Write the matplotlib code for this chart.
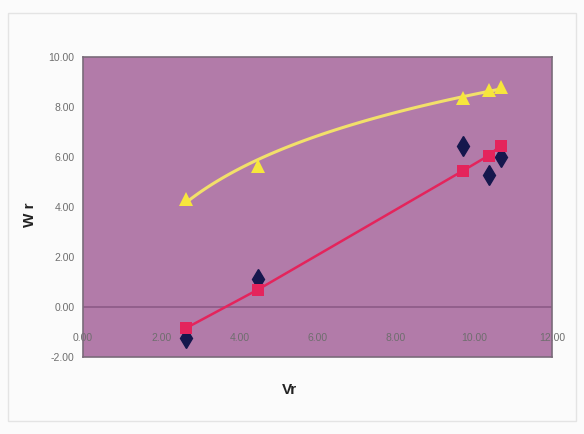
"""Scatter of Wr against Vr with trend lines, Excel-style layout."""

import matplotlib

matplotlib.use("Agg")
import matplotlib.pyplot as plt
import numpy as np
from matplotlib.patches import Rectangle

# values
vr = [2.63, 4.48, 9.72, 10.38, 10.69]
wr_observed = [-1.24, 1.14, 6.46, 5.30, 6.00]
wr_linear = [-0.85, 0.70, 5.45, 6.06, 6.46]
wr_upper = [4.32, 5.66, 8.36, 8.69, 8.80]

x_ticks = [0, 2, 4, 6, 8, 10, 12]
y_ticks = [-2, 0, 2, 4, 6, 8, 10]

plt.rcParams["font.family"] = ["Liberation Sans", "DejaVu Sans"]

fig = plt.figure(figsize=(5.84, 4.34), dpi=100)
fig.patch.set_facecolor("#fbfbfb")
fig.patches.append(
    Rectangle((0.014, 0.03), 0.972, 0.94, transform=fig.transFigure,
              fill=False, edgecolor="#e4e4e4", linewidth=1.0)
)

ax = fig.add_axes([0.1421, 0.1774, 0.8031, 0.6912])
ax.set_facecolor("#b27ba9")

ax.axhline(0, color="#8c5a87", linewidth=1.2, zorder=1)

# logarithmic trend through the upper series
x_arr = np.array(vr)
coef = np.polyfit(np.log(x_arr), np.array(wr_upper), 1)
x_fit = np.linspace(x_arr.min(), x_arr.max(), 100)
ax.plot(x_fit, coef[0] * np.log(x_fit) + coef[1], color="#f2e06a", linewidth=2.2, zorder=4)

ax.plot(vr, wr_observed, linestyle="none", marker="d", markersize=10,
        color="#15174d", zorder=2)
ax.plot(vr, wr_linear, color="#e4245c", linewidth=1.8, marker="s", markersize=8.5,
        markeredgewidth=0, zorder=3)
ax.plot(vr, wr_upper, linestyle="none", marker="^", markersize=10.5,
        color="#f6e63c", markeredgewidth=0, zorder=5)

ax.set_xlim(0, 12)
ax.set_ylim(-2, 10)
ax.set_xticks(x_ticks)
ax.set_xticklabels([f"{v:.2f}" for v in x_ticks])
ax.set_yticks(y_ticks)
ax.set_yticklabels([f"{v:.2f}" for v in y_ticks])
ax.tick_params(axis="x", length=0, pad=-17, labelsize=7.5, labelcolor="#6e6e6e")
ax.tick_params(axis="y", length=0, pad=6, labelsize=7.5, labelcolor="#6e6e6e")

for spine in ax.spines.values():
    spine.set_color("#7a6b7a")
    spine.set_linewidth(1.2)

ax.text(-0.113, 0.473, "W r", transform=ax.transAxes, rotation=90,
        ha="center", va="center", fontsize=11, fontweight="bold", color="#222222")
ax.text(0.441, -0.11, "Vr", transform=ax.transAxes,
        ha="center", va="center", fontsize=11, fontweight="bold", color="#222222")

fig.savefig("out.png", dpi=100, facecolor=fig.get_facecolor())
